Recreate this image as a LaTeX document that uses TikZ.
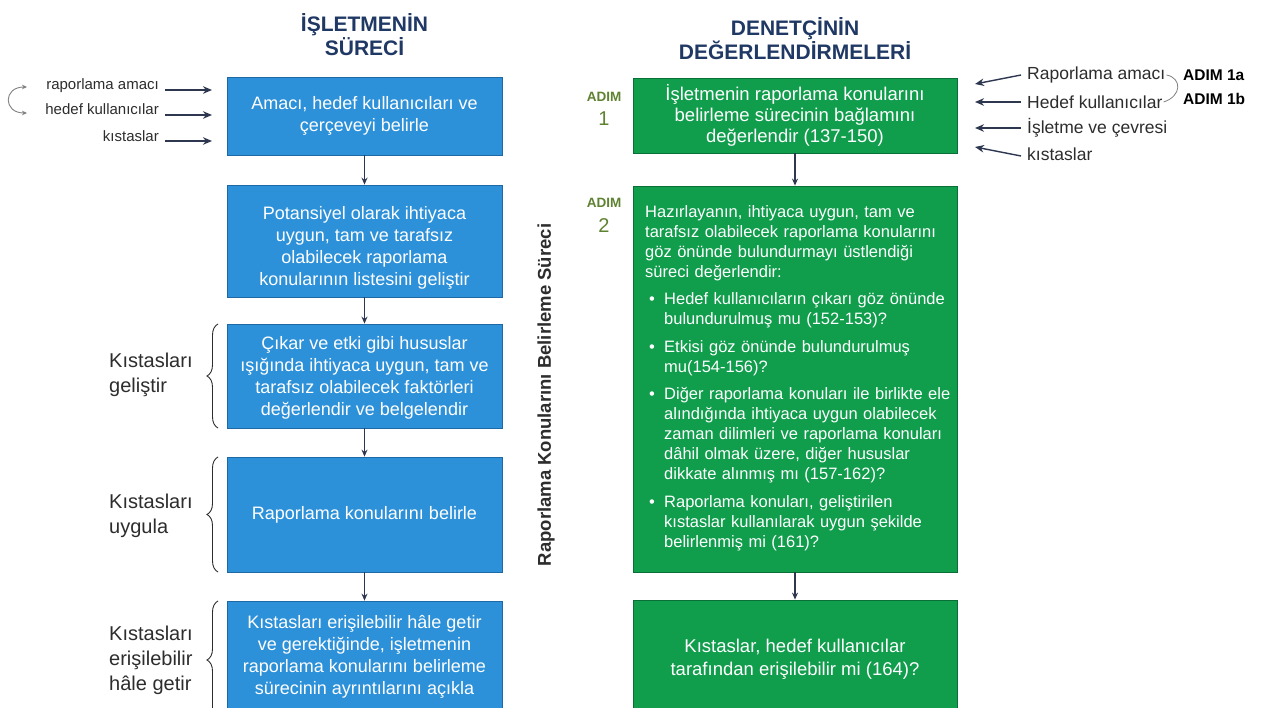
\documentclass[tikz,border=0pt]{standalone}
\usepackage{fontspec}
\setmainfont{Liberation Sans}
\usetikzlibrary{arrows.meta,decorations.pathreplacing}
\definecolor{bfill}{RGB}{45,145,217}
\definecolor{bdraw}{RGB}{30,105,165}
\definecolor{gfill}{RGB}{16,157,76}
\definecolor{gdraw}{RGB}{10,110,55}
\definecolor{navy}{RGB}{31,56,100}
\definecolor{conn}{RGB}{45,55,80}
\definecolor{adimc}{RGB}{95,130,50}
\definecolor{lbl}{RGB}{45,45,45}
\newcommand\gitem{\par\vspace{7.5pt}\hangindent=19pt\hangafter=1\noindent\makebox[19pt][l]{\hspace{4pt}•}}
\begin{document}
\begin{tikzpicture}[x=1pt,y=-1pt,
  bbox/.style={draw=bdraw, fill=bfill, line width=0.8pt, text=white, align=center, inner sep=0pt, minimum width=275pt, font=\fontsize{18}{22}\selectfont},
  gbox/.style={draw=gdraw, fill=gfill, line width=0.8pt, text=white, align=center, inner sep=0pt, minimum width=324pt, font=\fontsize{18.5}{22}\selectfont},
  gtext/.style={text=white, inner sep=0pt, font=\fontsize{16.5}{20}\selectfont},
  hdr/.style={text=navy, font=\bfseries\fontsize{21}{24}\selectfont, align=center},
  conn/.style={draw=conn, line width=1.1pt, -{Stealth[length=7pt,width=6pt]}},
  inarr/.style={draw=conn, line width=1.4pt, -{Stealth[length=9pt,width=7.5pt]}},
  linp/.style={text=lbl, font=\fontsize{15}{18}\selectfont, inner sep=0pt},
  rinp/.style={text=lbl, font=\fontsize{17.5}{20}\selectfont, inner sep=0pt},
  adimw/.style={text=adimc, font=\bfseries\fontsize{13.5}{15}\selectfont},
  adimn/.style={text=adimc, font=\fontsize{20}{22}\selectfont},
  blbl/.style={text=lbl, font=\fontsize{20}{25}\selectfont, align=left, inner sep=0pt},
  kbrace/.style={draw=lbl, line width=0.9pt, decorate, decoration={brace, amplitude=11pt}},
  stepl/.style={font=\bfseries\fontsize{15.5}{17}\selectfont, anchor=west, inner sep=0pt},
]
\useasboundingbox (0,0) rectangle (1263,708);
\fill[white] (0,0) rectangle (1263,708);

% headers
\node[hdr] (h1) at (364.5,35) {İŞLETMENİN\\SÜRECİ};
\node[hdr] (h2) at (795,39) {DENETÇİNİN\\DEĞERLENDİRMELERİ};

% left column
\node[bbox, minimum height=78pt] (b1) at (364.5,116) {Amacı, hedef kullanıcıları ve\\çerçeveyi belirle};
\node[bbox, minimum height=112pt] (b2) at (364.5,241) {\rule{0pt}{26pt}Potansiyel olarak ihtiyaca\\uygun, tam ve tarafsız\\olabilecek raporlama\\konularının listesini geliştir};
\node[bbox, minimum height=104pt] (b3) at (364.5,376) {\rule{0pt}{16pt}Çıkar ve etki gibi hususlar\\ışığında ihtiyaca uygun, tam ve\\tarafsız olabilecek faktörleri\\değerlendir ve belgelendir};
\node[bbox, minimum height=115pt] (b4) at (364.5,514.5) {Raporlama konularını belirle};
\node[bbox, minimum height=112pt] (b5) at (364.5,657) {Kıstasları erişilebilir hâle getir\\ve gerektiğinde, işletmenin\\raporlama konularını belirleme\\sürecinin ayrıntılarını açıkla};
\draw[conn] (b1) -- (b2);
\draw[conn] (b2) -- (b3);
\draw[conn] (b3) -- (b4);
\draw[conn] (b4) -- (b5);

% left inputs
\node[linp, anchor=east] (li1) at (159,86) {raporlama amacı};
\node[linp, anchor=east] (li2) at (159,109) {hedef kullanıcılar};
\node[linp, anchor=east] (li3) at (159,136) {kıstaslar};
\coordinate (la1) at (212,90);
\coordinate (la2) at (212,115);
\coordinate (la3) at (212,141);
\draw[inarr] (li1.east |- la1) ++(6,0) -- (la1);
\draw[inarr] (li2.east |- la2) ++(6,0) -- (la2);
\draw[inarr] (li3.east |- la3) ++(6,0) -- (la3);
\draw[gray, line width=0.9pt, {Stealth[length=5pt,width=4.5pt]}-{Stealth[length=5pt,width=4.5pt]}] (27,87) .. controls (3,87) and (3,113) .. (27,113);

% brace labels
\draw[kbrace] (218,428) -- (218,324);
\draw[kbrace] (218,572) -- (218,457);
\draw[kbrace] (218,719) -- (218,601);
\node[blbl, anchor=west] (k1) at (109,375) {Kıstasları\\geliştir};
\node[blbl, anchor=west] (k2) at (109,516) {Kıstasları\\uygula};
\node[blbl, anchor=west] (k3) at (109,660) {Kıstasları\\erişilebilir\\hâle getir};

% vertical title
\node[rotate=90, text=lbl, font=\bfseries\fontsize{18.5}{20}\selectfont] (vt) at (546,395) {Raporlama Konularını Belirleme Süreci};

% right column
\node[gbox, minimum height=75pt, font=\fontsize{18.5}{21}\selectfont] (g1) at (795,115.5) {İşletmenin raporlama konularını\\belirleme sürecinin bağlamını\\değerlendir (137-150)};
\node[gbox, minimum height=386pt] (g2) at (795,379) {};
\node[gtext, anchor=west, text width=340pt, align=left] (g2t) at (645,378) {Hazırlayanın, ihtiyaca uygun, tam ve\newline tarafsız olabilecek raporlama konularını\newline göz önünde bulundurmayı üstlendiği\newline süreci değerlendir:%
\gitem Hedef kullanıcıların çıkarı göz önünde\newline bulundurulmuş mu (152-153)?%
\gitem Etkisi göz önünde bulundurulmuş\newline mu(154-156)?%
\gitem Diğer raporlama konuları ile birlikte ele\newline alındığında ihtiyaca uygun olabilecek\newline zaman dilimleri ve raporlama konuları\newline dâhil olmak üzere, diğer hususlar\newline dikkate alınmış mı (157-162)?%
\gitem Raporlama konuları, geliştirilen\newline kıstaslar kullanılarak uygun şekilde\newline belirlenmiş mi (161)?\par};
\node[gbox, minimum height=118pt, font=\fontsize{18.5}{23}\selectfont] (g3) at (795,659) {Kıstaslar, hedef kullanıcılar\\tarafından erişilebilir mi (164)?};
\draw[conn] (g1) -- (g2);
\draw[conn] (g2) -- (g3);

% ADIM labels
\node[adimw] (a1w) at (604,97) {ADIM};
\node[adimn] (a1n) at (604,119) {1};
\node[adimw] (a2w) at (604,203) {ADIM};
\node[adimn] (a2n) at (604,226) {2};

% right inputs
\node[rinp, anchor=west] (ri1) at (1027,75) {Raporlama amacı};
\node[rinp, anchor=west] (ri2) at (1027,102) {Hedef kullanıcılar};
\node[rinp, anchor=west] (ri3) at (1027,128) {İşletme ve çevresi};
\node[rinp, anchor=west] (ri4) at (1027,154) {kıstaslar};
\coordinate (ra1) at (975,84);
\coordinate (ra2) at (975,102);
\coordinate (ra3) at (975,128);
\coordinate (ra4) at (975,147);
\draw[inarr] ([xshift=-6pt]ri1.west) -- (ra1);
\draw[inarr] ([xshift=-6pt]ri2.west) -- (ra2);
\draw[inarr] ([xshift=-6pt]ri3.west) -- (ra3);
\draw[inarr] ([xshift=-6pt,yshift=-2pt]ri4.west) -- (ra4);
\node[stepl] (s1a) at (1183,75) {ADIM 1a};
\node[stepl] (s1b) at (1183,99) {ADIM 1b};
\draw[gray, line width=0.8pt] ([xshift=1pt]ri1.east) .. controls (1182,78) and (1182,96) .. ([xshift=1pt]ri2.east);
\end{tikzpicture}
\end{document}
